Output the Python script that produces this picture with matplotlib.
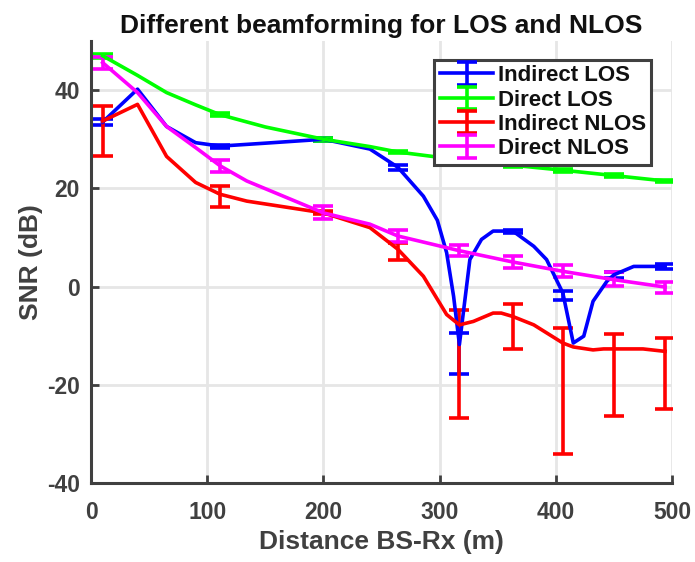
import numpy as np
import matplotlib
matplotlib.use('Agg')
import matplotlib.pyplot as plt

plt.rcParams['font.family'] = ['Liberation Sans', 'DejaVu Sans']
plt.rcParams['font.weight'] = 'bold'
plt.rcParams['axes.unicode_minus'] = False

# distances where the error bars sit
err_x = [10, 111, 200, 264, 317, 363, 406, 450, 494]

# Indirect LOS
x_ilos = [10, 40, 65, 90, 111, 150, 200, 240, 264, 286, 298, 306, 312, 317, 326, 336, 346, 363, 381, 392, 406, 415, 424, 432, 444, 450, 467, 494]
y_ilos = [33.5, 40.2, 32.6, 29.3, 28.6, 29.2, 30.0, 28.0, 24.3, 18.4, 13.5, 6.9, -2.0, -11.8, 5.5, 9.6, 11.3, 11.3, 8.2, 5.5, -1.3, -11.5, -10.1, -3.0, 1.1, 2.4, 4.1, 4.1]
lo_ilos = [0.6, 0.3, 0.3, 0.5, 6.0, 0.3, 1.4, 0.6, 0.5]
up_ilos = [0.6, 0.3, 0.3, 0.5, 2.3, 0.3, 0.3, 0.6, 0.5]

# Direct LOS
x_dlos = [10, 40, 65, 90, 111, 150, 200, 240, 264, 317, 363, 406, 450, 494]
y_dlos = [47.0, 43.0, 39.5, 37.0, 35.0, 32.5, 30.0, 28.5, 27.4, 25.8, 24.7, 23.7, 22.6, 21.5]
lo_dlos = [0.4, 0.3, 0.3, 0.3, 0.3, 0.3, 0.3, 0.3, 0.3]
up_dlos = [0.4, 0.3, 0.3, 0.3, 0.3, 0.3, 0.3, 0.3, 0.3]

# Indirect NLOS
x_inlos = [10, 40, 65, 90, 111, 134, 200, 240, 264, 286, 306, 317, 329, 346, 353, 363, 381, 404, 406, 415, 432, 441, 450, 475, 494]
y_inlos = [33.7, 37.1, 26.5, 21.2, 18.8, 17.4, 15.0, 12.0, 7.6, 2.1, -5.7, -7.8, -7.1, -5.4, -5.4, -6.1, -7.8, -11.2, -11.5, -12.3, -12.9, -12.7, -12.7, -12.7, -13.2]
lo_inlos = [7.1, 2.7, 0.3, 2.1, 19.0, 6.6, 22.5, 13.6, 11.7]
up_inlos = [3.1, 1.7, 0.3, 1.3, 3.0, 2.6, 3.1, 3.1, 2.7]

# Direct NLOS
x_dnlos = [10, 40, 65, 90, 111, 134, 200, 240, 264, 317, 363, 406, 450, 494]
y_dnlos = [45.6, 39.5, 32.6, 28.3, 24.6, 21.5, 15.0, 12.7, 10.3, 7.3, 5.0, 3.1, 1.4, -0.1]
lo_dnlos = [1.2, 1.3, 1.3, 1.2, 1.1, 1.2, 1.1, 1.2, 1.2]
up_dnlos = [1.1, 1.2, 1.4, 1.2, 1.1, 1.2, 1.2, 1.5, 1.1]

series = [
    ('Indirect LOS', x_ilos, y_ilos, lo_ilos, up_ilos, '#0000ff'),
    ('Direct LOS', x_dlos, y_dlos, lo_dlos, up_dlos, '#00ff00'),
    ('Indirect NLOS', x_inlos, y_inlos, lo_inlos, up_inlos, '#ff0000'),
    ('Direct NLOS', x_dnlos, y_dnlos, lo_dnlos, up_dnlos, '#ff00ff'),
]

fig = plt.figure(figsize=(6.95, 5.62), dpi=100)
ax = fig.add_axes([0.131, 0.1406, 0.836, 0.7864])

for name, x, y, lo, up, c in series:
    x = np.array(x, dtype=float)
    mask = np.isin(x, err_x)
    low = np.zeros(len(x))
    upp = np.zeros(len(x))
    low[mask] = lo
    upp[mask] = up
    ax.errorbar(x, y, yerr=[low, upp], errorevery=mask, color=c, lw=2.6,
                elinewidth=2.6, capsize=7, capthick=2.6, label=name)

ax.set_xlim(0, 500)
ax.set_ylim(-40, 50)
ax.set_xticks([0, 100, 200, 300, 400, 500])
ax.set_yticks([-40, -20, 0, 20, 40])
ax.grid(True, color='#e6e6e6', lw=2)
ax.set_axisbelow(True)
for s in ['top', 'right']:
    ax.spines[s].set_visible(False)
for s in ['left', 'bottom']:
    ax.spines[s].set_color('#404040')
    ax.spines[s].set_linewidth(2.2)
ax.tick_params(direction='in', length=6, width=2, colors='#404040', labelsize=16.5)
ax.tick_params(axis='x', pad=13)
ax.tick_params(axis='y', pad=8)
for lab in ax.get_xticklabels() + ax.get_yticklabels():
    lab.set_fontweight('bold')

ax.set_xlabel('Distance BS-Rx (m)', fontsize=19, fontweight='bold',
              color='#404040', labelpad=4)
ax.set_ylabel('SNR (dB)', fontsize=19, fontweight='bold', color='#404040',
              labelpad=3)
ax.set_title('Different beamforming for LOS and NLOS', fontsize=19,
             fontweight='bold', color='#111111', pad=6)

leg = ax.legend(loc='upper right', bbox_to_anchor=(0.972, 0.968),
                prop={'weight': 'bold', 'size': 16}, handlelength=2.4,
                handletextpad=0.2, borderpad=0.25, labelspacing=0.15,
                borderaxespad=0.2, fancybox=False, framealpha=1)
leg.get_frame().set_edgecolor('#404040')
leg.get_frame().set_linewidth(2.2)
for t in leg.get_texts():
    t.set_color('#111111')

plt.savefig('out.png', dpi=100)
